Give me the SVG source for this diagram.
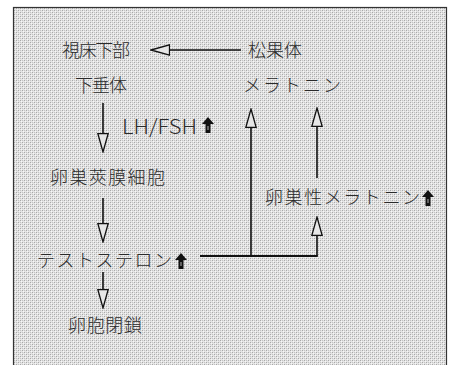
<svg xmlns="http://www.w3.org/2000/svg" width="453" height="365" viewBox="0 0 453 365">
<style>
.jp{font-family:"Noto Sans CJK JP","Noto Sans CJK SC",sans-serif;font-size:18px;font-weight:300;fill:#2a2a2a}
.en{font-family:"Noto Sans CJK JP","Liberation Sans",sans-serif;font-size:20px;font-weight:300;fill:#2a2a2a}
.ln{stroke:#111;stroke-width:1.6;fill:none}
</style>
<defs>
<pattern id="ht" width="4" height="4" patternUnits="userSpaceOnUse">
<rect width="4" height="4" fill="#e4e4e4"/>
<rect x="0" y="0" width="1" height="1" fill="#a8a8a8"/>
<rect x="2" y="2" width="1" height="1" fill="#a8a8a8"/>
<rect x="2" y="0" width="1" height="1" fill="#c4c4c4"/>
<rect x="0" y="2" width="1" height="1" fill="#c4c4c4"/>
<rect x="1" y="1" width="1" height="1" fill="#f6f6f6"/>
<rect x="3" y="3" width="1" height="1" fill="#f6f6f6"/>
</pattern>
<marker id="ah" viewBox="0 0 20 12" refX="0" refY="6" markerWidth="20" markerHeight="12" markerUnits="userSpaceOnUse" orient="auto">
<path d="M0.5,0.8 L19,6 L0.5,11.2 Z" fill="#e6e6e6" stroke="#111" stroke-width="1.3"/>
</marker>
<symbol id="bold" viewBox="0 0 12 16">
<path d="M6,0 L12,7 L8.5,7 L8.5,16 L3.5,16 L3.5,7 L0,7 Z" fill="#111"/>
<path d="M5.2,9 L6.8,9 L6.8,13 L5.2,13 Z" fill="#777"/>
</symbol>
</defs>
<rect width="453" height="365" fill="#fff"/>
<rect x="13.5" y="7.5" width="433" height="362" fill="url(#ht)" stroke="#333" stroke-width="1.2"/>

<g id="connectors">
<line class="ln" x1="241" y1="50" x2="170" y2="50" marker-end="url(#ah)"/>
<line class="ln" x1="103" y1="103" x2="103" y2="133" marker-end="url(#ah)"/>
<line class="ln" x1="103" y1="198" x2="103" y2="223" marker-end="url(#ah)"/>
<line class="ln" x1="103" y1="272" x2="103" y2="289" marker-end="url(#ah)"/>
<line class="ln" x1="200" y1="256" x2="317.8" y2="256" style="stroke-width:2"/>
<line class="ln" x1="251" y1="256" x2="251" y2="128" marker-end="url(#ah)"/>
<line class="ln" x1="317" y1="256" x2="317" y2="236" marker-end="url(#ah)"/>
<line class="ln" x1="317" y1="178" x2="317" y2="127" marker-end="url(#ah)"/>
</g>

<g id="hypothalamus"><text class="jp" x="62" y="57" textLength="68" lengthAdjust="spacing">視床下部</text></g>
<g id="pineal"><text class="jp" x="248" y="57" textLength="54" lengthAdjust="spacing">松果体</text></g>
<g id="pituitary"><text class="jp" x="75" y="92" textLength="52" lengthAdjust="spacing">下垂体</text></g>
<g id="melatonin"><text class="jp" x="243" y="92" textLength="98" lengthAdjust="spacing">メラトニン</text></g>
<g id="lhfsh"><text class="en" x="122" y="134" textLength="75" lengthAdjust="spacingAndGlyphs">LH/FSH</text><use href="#bold" x="202" y="117" width="12" height="16"/></g>
<g id="theca"><text class="jp" x="50" y="184" textLength="115" lengthAdjust="spacing">卵巣莢膜細胞</text></g>
<g id="ovarian-melatonin"><text class="jp" x="265" y="204" textLength="155" lengthAdjust="spacing">卵巣性メラトニン</text><use href="#bold" x="422" y="190" width="12" height="16"/></g>
<g id="testosterone"><text class="jp" x="37" y="267" textLength="135" lengthAdjust="spacing">テストステロン</text><use href="#bold" x="175" y="253" width="12" height="16"/></g>
<g id="atresia"><text class="jp" x="68" y="332" textLength="74" lengthAdjust="spacing">卵胞閉鎖</text></g>
</svg>
